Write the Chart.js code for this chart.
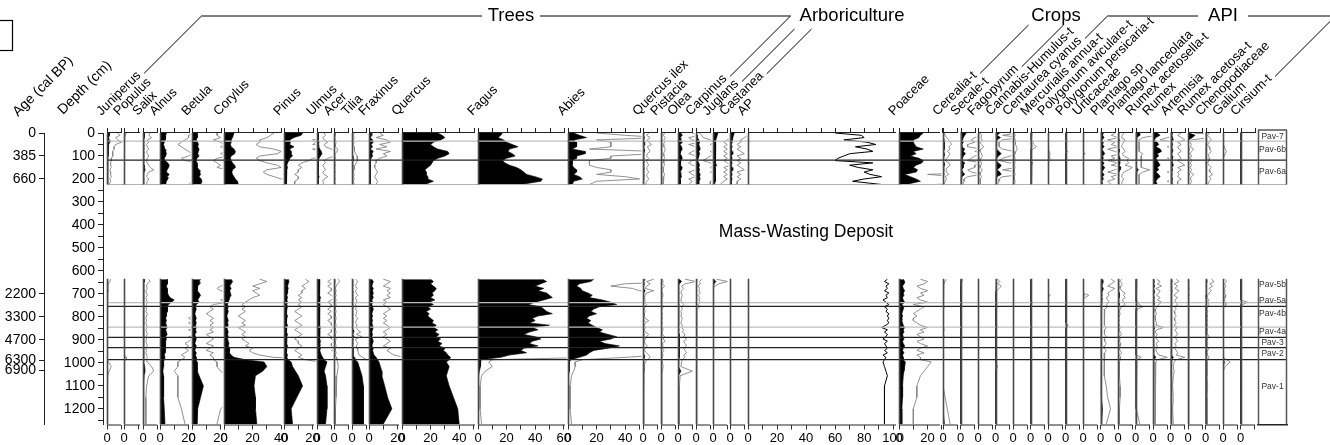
<!DOCTYPE html>
<html>
<head>
<meta charset="utf-8">
<script src="https://cdn.jsdelivr.net/npm/chart.js@4/dist/chart.umd.min.js"></script>
<style>
  html, body { margin: 0; padding: 0; background: #fff; }
  #wrap { width: 1330px; height: 445px; }
</style>
</head>
<body>
<div id="wrap"><canvas id="pollen"></canvas></div>
<script>
// sample depths (cm), upper core section and lower section (below the mass-wasting deposit)
const depthUpper = [0,10,20,30,40,50,60,70,80,90, 100,110,120,130,140,150,160,170,180,190, 200,210,224];
const depthLower = [636,646,656,666,676,686,696,706,716,726, 736,746,756,766,776,786,796,806,816,826,
  836,846,856,866,876,886,896,906,916,926, 936,946,956,966,976,986,996, 1016,1036,1056,1100,1150,1200,1266];

const taxa = ['Juniperus','Populus','Salix','Alnus','Betula','Corylus','Pinus','Ulmus','Acer','Tilia',
  'Fraxinus','Quercus','Fagus','Abies','Quercus ilex','Pistacia','Olea','Carpinus','Juglans','Castanea',
  'AP','Poaceae','Cerealia-t','Secale-t','Fagopyrum','Cannabis-Humulus-t','Centaurea cyanus','Mercurialis annua-t',
  'Polygonum aviculare-t','Polygonum persicaria-t','Urticaceae','Plantago sp','Plantago lanceolata',
  'Rumex acetosella-t','Rumex','Artemisia','Rumex acetosa-t','Chenopodiaceae','Galium','Cirsium-t'];

// percentages: [upper section, lower section]
const juniperus = [[1.5,1.8,1.2,1.5,2,1.2,1,1,0.8,0.8, 0.8,0.6,0.6,0.5,0.5,0.6,0.4,0.5,0.5,0.6, 0.4,0.5,0.3],
  [0.5,0.4,0.2,0.1,0.1,0.2,0.1,0.1,0,0.1, 0.1,0,0.1,0.1,0,0,0.1,0,0.1,0, 0,0.1,0,0,0.1,0,0,0.1,0,0, 0.1,0,0,0.1,0,0,0.2, 0.6,0.3,0.1,0,0,0,0]];
const populus = [[0.3,0.2,0.1,0,0,0,0,0,0,0, 0,0,0,0,0,0,0,0,0,0, 0,0,0],
  [0,0,0,0,0,0,0,0,0,0, 0,0,0.2,0,0,0,0,0,0,0, 0,0,0,0,0,0,0,0,0,0, 0,0,0,0,0.4,0.3,0, 0,0,0,0,0,0,0]];
const salix = [[1,0.8,1.2,0.6,0.8,0.5,0.6,0.8,0.5,0.6, 0.8,0.6,0.5,0.6,0.8,1,1.5,0.8,0.6,0.5, 0.8,0.6,0.5],
  [0.8,1,0.6,0.5,0.6,0.4,0.5,0.6,0.4,0.5, 0.6,0.5,0.4,0.5,0.4,0.6,0.5,0.4,0.5,0.4, 0.5,0.6,0.4,0.5,0.6,0.4,0.5,0.4,0.5,0.6, 0.4,0.5,0.4,0.5,0.6,0.5,0.6, 1.2,1.5,0.8,0.5,0.4,0.4,0.4]];
const alnus = [[4.5,4,4,3.5,3,2.5,3,3.5,4,4.5, 4,3,3.5,5.5,6.5,6,5,4.5,6.5,5, 5.5,4.5,4],
  [5,5.5,5,4.5,5,5.5,5,6,7,10, 8,6,5,5.5,5,4.5,4.5,4,4.5,4, 4.5,5,4,4.5,5,4,4.5,4,3.5,4, 3.5,4,3.5,3,3.5,3,2.5, 2.5,2,2.5,2.5,2.5,3,3.5]];
const betula = [[3.5,3.5,4,3,4,4.5,4,5,4.5,4, 5,3.5,3,3.5,4,3.5,5,5.5,6,5, 6.5,7,6],
  [6,5,5.5,4,3.5,4,5,6,5,4, 5,3,2.5,3,2.5,2,2.5,3,2.5,3, 2.5,3,2.5,3,2,2.5,3,2.5,2,3, 2.5,2,3,2.5,3,3,3.5, 3.5,4,5,8,6,4,3.5]];
const corylus = [[7,6.5,6,5,5,4.5,5,7,8,7.5, 5,4.5,5,6,7.5,8,6,5.5,6,7, 8,9.5,10],
  [5,6,5,4,5,4,4.5,5,4,3.5, 3,2.5,3,2.5,3,2.5,2,2.5,3,2.5, 3,2,2.5,3,2.5,3,2.5,3,3.5,3, 4,3.5,4,5,7,15,28, 30,27,22,21,22,22,23]];
const pinus = [[13,12,7,4,4.5,4,7,4,5,5, 6,4,3.5,2.5,2,2.5,2,2,1.5,2, 2,1.5,1.5],
  [3,3.5,3,2.5,3,2.5,2.5,2,2.5,2, 2.5,2,2.5,2,1.5,2,2.5,2,1.5,2, 2.5,2,1.5,2,2.5,2,1.5,2,2,2.5, 2,1.5,2,2.5,2,3,5, 6,8,10,13,9,5,6]];
const ulmus = [[1,1.2,0.8,1,1.5,1,1.2,2,3,3.5, 2.5,1.5,1,1.2,0.8,1,1.2,0.8,1,1.5, 1,0.8,1],
  [2,1.5,2,1.5,2,2,1.5,2,2.5,2, 1.5,2,2,1.5,2,1.5,2,2,1.5,2, 2,2.5,2,2,1.5,2,2,2.5,2,2, 2.5,2,2.5,3,4,5,7, 6,5,6,7,7,7,6]];
const acer = [[0.2,0.2,0.1,0.2,0.3,0.2,0.2,0.5,0.4,0.2, 0.1,0.2,0.1,0.1,0.2,0.1,0.1,0.2,0.1,0.1, 0.2,0.1,0.1],
  [0.6,0.8,0.5,0.3,0.2,0.3,0.2,0.3,0.2,0.3, 0.2,0.3,0.2,0.2,0.3,0.2,0.2,0.3,0.2,0.2, 0.3,0.2,0.2,0.3,0.2,0.2,0.3,0.2,0.2,0.3, 0.2,0.2,0.3,0.2,0.3,0.4,0.5, 0.6,0.5,0.4,0.3,0.3,0.2,0.2]];
const tilia = [[0.3,0.2,0.3,0.2,0.3,0.2,0.3,0.3,0.4,0.5, 0.7,0.8,0.7,0.6,0.4,0.3,0.3,0.2,0.3,0.2, 0.3,0.2,0.3],
  [0.5,0.8,0.6,0.5,0.7,0.5,0.6,0.8,0.5,0.6, 0.7,0.5,0.6,0.5,0.7,0.6,0.5,0.8,0.6,0.5, 0.7,0.6,0.8,1.2,0.6,1.4,0.5,0.6,0.8,0.6, 0.7,0.8,0.9,1,1.5,2,4, 5,6,7,8,8,8,8]];
const fraxinus = [[1.5,2,1,2.5,3,1.5,2.5,1,3,2, 2.5,1.5,1,1,0.8,0.8,1,1.2,1,0.8, 1,1.2,1],
  [2,3,2.5,2,3,2.5,3,2.5,3,2, 2.5,2,2.5,3,2.5,2,2.5,2,2.5,2, 2.5,3,2.5,2,2.5,2,2.5,3,2.5,2, 3,2.5,3,3.5,5,6,7, 8,9,9,11,13,16,10]];
const quercus = [[25,28,30,27,22,20,22,25,32,33, 30,25,22,21,20,18,16,17,17,18, 18,22,16],
  [20,22,20,22,24,23,21,22,20,23, 19,22,18,20,17,19,18,20,22,21, 24,22,25,23,26,24,27,25,28,26, 30,29,31,32,34,33,31, 33,32,31,33,36,39,40]];
const fagus = [[17,16,14,18,20,24,28,22,21,24, 26,20,17,19,22,27,30,32,34,40, 45,44,30],
  [45,48,44,40,46,42,48,50,52,46, 40,35,44,46,48,52,42,38,40,36, 50,38,42,36,32,40,44,38,36,42, 32,30,34,22,16,2,1.5, 2,1,0.5,0.3,0.3,0.3,0.5]];
const abies = [[4,8,13,4,6,6,6,3,12,12, 6,6,3,3,3,4,6,6,4,8, 10,4,3],
  [18,16,8,6,9,10,14,17,15,24, 30,34,22,18,16,20,15,13,16,14, 17,20,24,22,28,34,30,22,26,36, 28,18,15,13,8,2,1, 1,0.8,0.5,0.3,0.3,0.3,0.5]];
const quercusIlex = [[0.8,0.5,1,0.6,0.8,1.2,0.6,0.8,1,0.6, 0.5,0.8,0.5,0.6,0.8,0.5,0.6,0.8,0.5,0.6, 0.8,0.5,0.4],
  [1.5,0.5,1,0.5,0.3,1.5,0.5,0.3,0.2,0.3, 0.2,0.5,0.3,0.2,0.3,0.2,0.2,0.3,0.8,0.3, 0.2,0.3,0.2,0.3,0.8,0.5,0.3,0.2,0.3,0.6, 0.3,0.2,0.5,0.8,1,0.6,0.3, 0.2,0.2,0.1,0.1,0.1,0.1,0.1]];
const pistacia = [[0.5,0.3,0.6,0.4,0.5,0.3,0.4,0.6,0.5,0.3, 0.4,0.5,0.3,0.4,0.5,0.3,0.4,0.3,0.5,0.4, 0.3,0.4,0.3],
  [0.2,0.3,0.2,0.5,0.2,0.1,0.2,0.3,0.2,0.1, 0.2,0.1,0.3,0.2,0.1,0.2,0.1,0.2,0.1,0.2, 0.1,0.2,0.3,0.1,0.2,0.5,0.3,0.6,0.2,0.3, 0.2,0.4,0.2,0.3,0.2,0.1,0.2, 0.3,0.2,0.1,0.1,0.1,0.1,0.1]];
const olea = [[2,3,1.5,2,3,1.5,2.5,3,2,1.5, 2.5,3,2,1.5,2,3,2.5,1.5,2,2.5, 1.5,2,1.5],
  [1,2.5,1,0.5,0.8,0.5,0.4,0.6,0.5,0.4, 0.5,0.8,0.5,0.6,0.4,0.5,0.4,0.6,0.5,0.4, 0.6,0.5,0.8,0.6,1,0.8,1.2,0.8,1,1.2, 0.8,1,1.2,0.8,1,0.6,0.5, 0.4,2,0.3,0.2,0.2,0.2,0.2]];
const carpinus = [[0.5,0.8,1,2,2.5,2,2.5,3,2,2.5, 2,1.5,1,2,2.5,2,2.5,2,3,2.5, 3,2,2],
  [0.8,0.5,0.6,0.3,0.5,0.4,0.6,0.3,0.5,0.4, 0.6,0.3,0.5,0.2,0.1,0.1,0.1,0.1,0.1,0.1, 0.1,0.1,0.1,0.1,0.1,0.1,0.1,0.1,0.1,0.1, 0.1,0.1,0.1,0.1,0.1,0.1,0.1, 0.1,0.1,0.1,0.1,0.1,0.1,0.1]];
const juglans = [[3.5,3,2.5,2,1.5,2,1.5,2,1.5,2, 1.5,2,1.5,2,2.5,1.5,2,1.5,2,1.5, 2,1.5,1],
  [0.5,2,0.8,0.3,0,0,0,0,0,0, 0,0,0,0,0,0,0,0,0,0, 0,0,0,0,0,0,0,0,0,0, 0,0,0,0,0,0,0, 0,0,0,0,0,0,0]];
const castanea = [[3,2.5,2,1.5,1.5,1,1.5,1,1.5,2, 1,1.5,1,1.5,1,1.5,2,1,1.5,1, 1.5,1,1],
  [0,0,0,0,0,0,0,0,0,0, 0,0,0,0,0,0,0,0,0,0, 0,0,0,0,0,0,0,0,0,0, 0,0,0,0,0,0,0, 0,0,0,0,0,0,0]];
const ap = [[60,78,80,66,82,88,74,82,86,70, 66,62,60,86,70,76,86,80,84,92, 80,72,92],
  [96,94,97,95,96,94,97,95,96,93, 95,97,94,96,95,97,96,97,96,97, 95,92,96,94,96,95,93,96,94,95, 96,94,96,93,95,94,93, 94,95,96,94,94,94,94]];
const poaceae = [[17,15,14,10,10,11,12,17,10,12, 8,14,17,16,12,10,13,12,4,8, 12,15,5],
  [3,4,3.5,2.5,3,4,3,3.5,2.5,3, 4,2,3.5,3,2.5,2,2.5,2,2,2.5, 3,4,3,3.5,2.5,3,3.5,2.5,3,4, 3,2.5,3.5,2.5,3,3,4.5, 4,3.5,3,2.5,2.5,2,2]];
const cerealia = [[0.2,0.3,0.5,0.8,1,1.2,0.8,1,0.6,1, 0.8,0.5,0.3,0.8,1,0.6,0.4,0.5,0.8,0.3, 0.5,0.3,0.2],
  [0.5,0.3,0.1,0,0,0,0,0,0,0, 0,0,0.2,0,0,0,0,0,0,0, 0,0.1,0.2,0,0,0.2,0,0,0,0, 0,0,0,0,0,0,0, 0,0,0,0,0.3,0.6,1]];
const secale = [[4,3,2,1.5,2,1,1,3,2,3.5, 2,1.5,1,3,2,2,1,1.5,3,1, 0.5,0.5,0.3],
  [0.3,0.2,0.1,0,0,0,0,0,0,0, 0,0,0,0,0,0,0,0,0,0, 0,0,0,0,0,0,0,0,0,0, 0,0,0,0,0,0,0, 0,0,0,0,0,0,0]];
const fagopyrum = [[0.3,0.5,0.4,0.6,0.3,0.5,0.8,0.4,0.3,0.5, 0.6,0.4,0.3,0.5,0.4,0.3,0.6,0.4,0.3,0.5, 0.3,0.4,0.3],
  [0,0,0,0,0,0,0,0,0,0, 0,0,0,0,0,0,0,0,0,0, 0,0,0,0,0,0,0,0,0,0, 0,0,0,0,0,0,0, 0,0,0,0,0,0,0]];
const cannabis = [[3,1,3.5,1,0.5,0.5,0.5,1,2.5,4, 2,1,0.5,2,4,3,1,3,4,1, 0.5,0.5,0.3],
  [0.3,0.6,0.3,0.8,0.5,0.2,0,0,0,0, 0,0,0.3,0,0,0,0,0,0,0, 0,0,0,0,0,0,0,0,0,0, 0,0,0,0,0,0,0, 0.3,0,0,0,0,0,0]];
const centaurea = [[0.2,0.3,0.2,0.3,0.4,0.3,0.5,0.6,0.4,0.3, 0.2,0.3,0.2,0.3,0.2,0.3,0.2,0.2,0.3,0.2, 0.2,0.3,0.2],
  [0,0,0,0,0,0,0,0,0,0, 0,0,0,0,0,0,0,0,0,0, 0,0,0,0,0,0,0,0,0,0, 0,0,0,0,0,0,0, 0,0,0,0,0,0,0]];
const mercurialis = [[0.2,0.1,0.2,0.1,0.3,0.5,0.8,0.3,0.1,0.2, 0.1,0.2,0.1,0.3,0.2,0.1,0.2,0.1,0.2,0.1, 0.2,0.1,0.1],
  [0,0,0,0,0,0,0,0,0,0, 0,0,0,0,0,0,0,0,0,0, 0,0,0,0,0,0,0,0,0,0, 0,0,0,0,0,0,0, 0,0,0,0,0,0,0]];
const polygonumAvic = [[0,0,0,0,0,0,0,0,0.2,0.3, 0.2,0.3,0.2,0,0,0,0,0,0,0, 0,0,0],
  [0,0,0,0,0,0,0,0.3,0,0, 0,0,0,0,0,0,0,0,0,0, 0,0,0,0,0,0,0.2,0,0,0, 0,0,0,0,0,0,0, 0,0,0,0,0,0,0]];
const polygonumPers = [[0,0,0,0,0,0,0,0,0.3,0, 0,0,0,0,0,0,0,0,0,0, 0,0,0],
  [0,0,0,0,0,0,0,0,0,0, 0,0,0,0,0,0,0,0,0,0, 0.4,0,0,0,0,0,0,0,0,0, 0,0,0,0,0,0,0, 0,0,0,0,0,0,0]];
const urticaceae = [[0,0,0,0,0,0,0,0,0,0.3, 0,0,0,0,0,0,0,0,0,0, 0,0,0],
  [0,0,0,0,0,0,0,0.8,0.3,0, 0,0,0,0,0,0,0,0,0,0, 0,0,0,0,0,0,0,0,0,0, 0,0,0,0,0,0,0, 0,0,0,0,0,0,0]];
const plantagoSp = [[2,1.5,2.5,1,2,1.5,2.5,1,2,3, 1.5,2,1,2.5,1.5,3,2,1,2.5,1.5, 2,1,1.5],
  [1.5,2,1.5,1,2,1.5,1,1.2,0.8,1, 1.2,0.8,1,0.6,0.5,0.6,0.5,0.6,0.5,0.6, 0.5,0.8,0.6,0.5,0.6,0.8,0.5,0.6,0.8,0.6, 0.5,0.8,0.6,0.5,0.6,0.5,0.5, 0.5,0.6,0.5,0.8,1,1.4,0.8]];
const plantagoLanc = [[0.8,0.6,0.5,1,0.8,0.6,0.5,0.8,1,0.6, 0.8,1.5,1.2,1.5,1,2,1.5,0.8,0.6,0.5, 0.8,0.6,0.5],
  [0.5,0.3,0.6,0.4,0.3,0.5,1,0.8,1,0.6, 0.8,1,0.5,0.3,0.2,0.3,0.2,0.1,0.2,0.1, 0.2,0.3,0.2,0.3,0.5,0.2,0.3,0.2,0.4,0.3, 0.2,0.3,0.5,0.2,0.4,0.3,0.2, 0.2,0.2,0.2,0.3,0.3,0.2,0.2]];
const rumexAcetosella = [[2.5,3,1,0.5,0.5,0.5,0.5,0.5,0.5,1, 0.8,0.8,0.8,0.8,0.8,0.8,2,1,0.5,0.5, 0.5,0.5,0.5],
  [0.2,0.1,0.2,0.1,0.1,0.2,0.1,0.1,0.2,0.1, 0.3,0.5,1,0.3,0.1,0.1,0.1,0.1,0.1,0.1, 0.1,0.1,0.1,0.1,0.1,0.1,0.1,0.1,0.1,0.1, 0.1,0.1,0.1,0.1,0.8,0.2,0.1, 0.1,0.1,0.1,0.1,0.1,0.2,0.6]];
const rumex = [[3,5,2,1,3,4,2,5,6,3, 4,2,3,4,5,3,4,2,4,5, 3,2,3],
  [0.5,1,0.6,1.2,0.4,1,0.8,0.5,1,0.6, 1.2,0.8,0.5,0.4,0.3,0.5,0.3,0.4,0.3,0.5, 0.4,1.5,0.5,0.3,0.6,0.4,0.5,0.8,0.4,0.6, 0.5,0.4,0.6,0.8,2,0.6,0.4, 0.3,0.3,0.3,0.3,0.3,0.3,0.3]];
const artemisia = [[1.5,1,1.5,2,1,1.5,1,1.2,1.5,1, 1.2,1.5,1,1.5,2,1,1.5,1,1.2,1, 1.5,1,1],
  [0.8,1.2,0.5,1,0.6,1.2,0.8,0.5,1,0.6, 0.8,1,0.6,0.8,0.5,0.6,0.8,0.5,0.6,0.8, 0.5,1,0.6,0.8,1,0.6,0.8,1,0.6,0.8, 0.6,0.8,1,0.8,2,0.8,0.5, 0.4,0.5,0.4,0.3,0.4,0.3,0.4]];
const rumexAcetosa = [[0.8,5,3,0.5,0.3,0.5,0.3,0.8,0.5,0.3, 0.5,0.3,0.6,0.3,0.5,0.3,0.5,0.3,0.8,0.5, 0.3,0.5,0.3],
  [0.1,0.2,0.1,0.1,0.2,0.1,0.1,0.2,0.1,0.1, 0.2,0.1,0.1,0.1,0.1,0.1,0.1,0.1,0.1,0.1, 0.1,0.1,0.1,0.1,0.1,0.1,0.1,0.1,0.1,0.1, 0.1,0.1,0.1,0.1,0.1,0.1,0.1, 0.1,0.1,0.1,0.1,0.1,0.1,0.1]];
const chenopodiaceae = [[0.5,0.3,0.6,0.8,0.5,0.3,0.5,0.6,0.8,0.5, 0.4,0.6,0.5,0.3,0.5,0.8,0.5,0.6,1,0.5, 0.8,0.5,0.3],
  [0.8,1.2,0.6,1,0.5,0.8,0.5,0.3,0.2,0.5, 0.3,0.5,0.3,0.2,0.3,0.2,0.3,0.2,0.3,0.2, 0.3,0.2,0.3,0.2,0.3,0.5,0.3,0.2,0.3,0.2, 0.5,0.3,0.2,0.3,0.5,0.3,0.2, 0.2,0.2,0.2,0.3,0.2,0.2,0.2]];
const galium = [[0,0,0,0,0,0,0.2,0.3,0.5,0.3, 0.2,0,0,0,0,0,0,0,0,0, 0,0,0],
  [0.3,0.5,0.2,0.4,0.2,0.3,0.2,0.4,0.3,0.2, 0.3,0.4,0.2,0,0,0,0,0,0,0, 0,0,0,0,0,0,0,0,0,0, 0,0,0,0,0,0.5,1, 0.3,0,0,0,0,0,0]];
const cirsium = [[0,0,0,0,0,0,0,0,0,0, 0,0,0,0,0,0,0,0,0,0, 0,0,0],
  [0,0,0,0,0,0,0,0,0,0, 1,0.3,0,0,0,0,0,0,0,0, 0,0,0,0,0,0,0,0,0,0, 0,0,0,0,0,0,0, 0,0,0,0,0,0,0]];

const series = [juniperus, populus, salix, alnus, betula, corylus, pinus, ulmus, acer, tilia,
  fraxinus, quercus, fagus, abies, quercusIlex, pistacia, olea, carpinus, juglans, castanea,
  ap, poaceae, cerealia, secale, fagopyrum, cannabis, centaurea, mercurialis,
  polygonumAvic, polygonumPers, urticaceae, plantagoSp, plantagoLanc,
  rumexAcetosella, rumex, artemisia, rumexAcetosa, chenopodiaceae, galium, cirsium];

// age axis (cal BP) placed at depths
const ageDepth = [0, 100, 200, 700, 800, 900, 990, 1033];
const ageLabels = ['0', '385', '660', '2200', '3300', '4700', '6300', '6900'];

// pollen zones
const zoneNames = ['Pav-7','Pav-6b','Pav-6a','Pav-5b','Pav-5a','Pav-4b','Pav-4a','Pav-3','Pav-2','Pav-1'];
const zoneMid = [17, 74, 168, 658, 728, 786, 862, 911, 960, 1102];
const zoneBounds = [35, 118, 738, 754, 844, 889, 934, 986];
const zoneMajor = [false, true, false, true, false, true, true, true];

// layout (pixels)
const panelPx = [17,19,17,32,32,60,33,17,18,17, 33,76,90,75,18,17,18,17,17,18, 151,44,
  17.5,17.5,17.5,17.5,17.5,17.5,17.5,17.5,17.5,17.5,17.5,17.5,17.5,17.5,17.5,17.5,17.5,17.5];
const SPACER = 4, ZONE_W = 29, PXU = 1.43, EXAG = 5;
const YMAX = 1268, UPPER_END = 224, LOWER_START = 634, GAP_DEPTH = 430;
const FONT = "'Liberation Sans', Arial, Helvetica, sans-serif";

Chart.defaults.font.family = FONT;
Chart.defaults.color = '#000';

const depths = depthUpper.concat([GAP_DEPTH], depthLower);
const toPoints = vals => vals[0].concat([null], vals[1]).map((v, k) => ({ x: v, y: depths[k] }));
const TOTAL = SPACER + panelPx.reduce((a, b) => a + b, 0) + ZONE_W;

const scales = {};
scales.sp = { type: 'linear', axis: 'x', position: 'bottom', display: false, stack: 'panel', stackWeight: SPACER, min: 0, max: 1 };
const offsets = [];
let off = SPACER;
taxa.forEach((t, i) => {
  const w = panelPx[i];
  offsets.push(off);
  off += w;
  scales['p' + i] = {
    type: 'linear', axis: 'x', position: 'bottom', stack: 'panel', stackWeight: w,
    min: 0, max: t === 'AP' ? 104 : w / PXU,
    grid: { drawOnChartArea: false, tickLength: 5, color: '#333' },
    border: { display: false },
    ticks: { stepSize: 10, includeBounds: false, autoSkip: false, maxRotation: 0, padding: 1,
      font: { size: 13 }, callback: v => (v % 20 === 0 ? String(v) : '') },
    afterFit: s => { s.height = 21; }
  };
});
scales.zone = {
  type: 'linear', axis: 'x', position: 'bottom', stack: 'panel', stackWeight: ZONE_W, min: 0, max: 1,
  grid: { drawOnChartArea: false, drawTicks: false }, border: { color: '#222', width: 1.5 },
  ticks: { display: false }, afterFit: s => { s.height = 21; }
};
// hidden scales for the x5 exaggeration curves, lined up on each panel
taxa.forEach((t, i) => {
  if (t === 'AP') return;
  const k = EXAG * PXU;
  const min = -offsets[i] / k;
  scales['e' + i] = { type: 'linear', axis: 'x', position: 'bottom', display: false, min, max: min + TOTAL / k };
});
scales.age = {
  type: 'linear', axis: 'y', position: 'left', weight: 2, min: 0, max: YMAX, reverse: true,
  afterBuildTicks: s => { s.ticks = ageDepth.map(v => ({ value: v })); },
  afterFit: s => { s.width = 44; },
  ticks: { autoSkip: false, padding: 3, font: { size: 14 }, callback: (v, i) => ageLabels[i] },
  grid: { drawOnChartArea: false, tickLength: 5, color: '#222' }, border: { color: '#222' }
};
scales.depth = {
  type: 'linear', axis: 'y', position: 'left', weight: 1, min: 0, max: YMAX, reverse: true,
  afterFit: s => { s.width = 59; },
  ticks: { stepSize: 50, includeBounds: false, autoSkip: false, padding: 3, font: { size: 14 },
    callback: v => (v % 100 === 0 ? String(v) : '') },
  grid: { drawOnChartArea: false, tickLength: 5, color: '#222' }, border: { color: '#222' }
};

const datasets = [];
taxa.forEach((t, i) => {
  const pts = toPoints(series[i]);
  if (t === 'AP') {
    datasets.push({ label: t, data: pts, xAxisID: 'p' + i, yAxisID: 'depth', borderColor: '#000',
      borderWidth: 1, fill: false, pointRadius: 0, order: 0 });
    return;
  }
  datasets.push({ label: t + ' x5', data: pts, xAxisID: 'e' + i, yAxisID: 'depth', borderColor: '#858585',
    borderWidth: 0.9, fill: false, pointRadius: 0, order: 1,
    clip: { left: -offsets[i], right: -(TOTAL - offsets[i] - panelPx[i] + 1.5), top: 2, bottom: 2 } });
  datasets.push({ label: t, data: pts, xAxisID: 'p' + i, yAxisID: 'depth', borderColor: '#000',
    borderWidth: 0.6, backgroundColor: '#000', fill: 'origin', pointRadius: 0, order: 0 });
});

const decor = {
  id: 'decor',
  afterDraw(chart) {
    const { ctx, chartArea: area } = chart;
    const ys = chart.scales.depth;
    const z = chart.scales.zone;
    const yU = [ys.getPixelForValue(0), ys.getPixelForValue(UPPER_END)];
    const yL = [ys.getPixelForValue(LOWER_START), area.bottom];
    const seg = (x1, y1, x2, y2) => { ctx.beginPath(); ctx.moveTo(x1, y1); ctx.lineTo(x2, y2); ctx.stroke(); };
    ctx.save();

    // zone boundaries
    const xL = chart.scales.p0.left;
    zoneBounds.forEach((d, k) => {
      ctx.strokeStyle = zoneMajor[k] ? '#222' : '#bdbdbd';
      ctx.lineWidth = zoneMajor[k] ? 1.3 : 1.2;
      const y = ys.getPixelForValue(d);
      seg(xL, y, z.right, y);
    });
    ctx.strokeStyle = '#b0b0b0'; ctx.lineWidth = 1.2;
    seg(xL, yU[1], z.right, yU[1]);

    // panel baselines, top axes and bottom axis lines
    const anchors = [];
    taxa.forEach((t, i) => {
      const s = chart.scales['p' + i];
      const x0 = Math.round(s.getPixelForValue(0)) + 0.5;
      ctx.strokeStyle = '#4a4a4a'; ctx.lineWidth = 1.6;
      seg(x0, yU[0], x0, yU[1]);
      seg(x0, yL[0], x0, yL[1]);
      ctx.strokeStyle = '#222'; ctx.lineWidth = 1;
      seg(s.left, area.top - 0.5, s.right - 3, area.top - 0.5);
      seg(s.left, area.bottom + 0.5, s.right - 3, area.bottom + 0.5);
      for (let v = 0; v < s.max; v += 10) {
        const tx = Math.round(s.getPixelForValue(v)) + 0.5;
        seg(tx, area.top, tx, area.top - 5);
      }
      anchors.push(x0 - 6);
    });

    // zone column
    ctx.strokeStyle = '#555'; ctx.lineWidth = 1.5;
    [z.left + 0.5, z.right - 0.5].forEach(x => { seg(x, area.top - 3, x, yU[1]); seg(x, yL[0], x, yL[1]); });
    seg(z.left, area.top - 3, z.right, area.top - 3);
    ctx.fillStyle = '#333';
    ctx.font = '8.5px ' + FONT;
    ctx.textAlign = 'center'; ctx.textBaseline = 'middle';
    zoneNames.forEach((n, k) => ctx.fillText(n, (z.left + z.right) / 2, ys.getPixelForValue(zoneMid[k])));

    // rotated taxon names
    const C = Math.SQRT1_2, LY = 116;
    ctx.fillStyle = '#000';
    ctx.font = '13px ' + FONT;
    ctx.textAlign = 'left'; ctx.textBaseline = 'alphabetic';
    const ends = {};
    taxa.forEach((t, i) => {
      ctx.save(); ctx.translate(anchors[i], LY); ctx.rotate(-Math.PI / 4); ctx.fillText(t, 0, 0); ctx.restore();
      ends[t] = { ax: anchors[i], w: ctx.measureText(t).width };
    });
    ctx.font = '14px ' + FONT;
    [['Age (cal BP)', 18, 117], ['Depth (cm)', 63, 115]].forEach(([t, x, y]) => {
      ctx.save(); ctx.translate(x, y); ctx.rotate(-Math.PI / 4); ctx.fillText(t, 0, 0); ctx.restore();
    });

    // group brackets
    ctx.strokeStyle = '#000'; ctx.lineWidth = 1;
    const leader = (name, yTo) => {
      const { ax, w } = ends[name];
      const d = w + 4;
      seg(ax + d * C, LY - d * C, ax + (LY - yTo), yTo);
      return ax + (LY - yTo);
    };
    seg(leader('Juniperus', 16), 16, 482, 16);
    seg(540, 16, leader('Carpinus', 16), 16);
    leader('Juglans', 29); leader('Castanea', 29);
    leader('Cerealia-t', 25); leader('Fagopyrum', 25);
    seg(leader('Centaurea cyanus', 16), 16, 1198, 16);
    seg(1248, 16, leader('Cirsium-t', 16), 16);
    ctx.font = '18.5px ' + FONT;
    ctx.textAlign = 'center'; ctx.textBaseline = 'middle';
    [['Trees', 511], ['Arboriculture', 852], ['Crops', 1056], ['API', 1223]].forEach(([t, x]) => ctx.fillText(t, x, 16));

    ctx.font = '17.5px ' + FONT;
    ctx.fillText('Mass-Wasting Deposit', 806, 232);

    ctx.lineWidth = 1.2;
    ctx.strokeRect(-20, 20.5, 32.5, 30);
    ctx.restore();
  }
};

new Chart(document.getElementById('pollen'), {
  type: 'line',
  data: { datasets },
  options: {
    indexAxis: 'y',
    responsive: true,
    maintainAspectRatio: false,
    animation: false,
    events: [],
    layout: { autoPadding: false, padding: { left: 0, right: 43, top: 133, bottom: 0 } },
    elements: { line: { tension: 0 }, point: { radius: 0 } },
    plugins: { legend: { display: false }, tooltip: { enabled: false } },
    scales
  },
  plugins: [decor]
});
</script>
</body>
</html>
